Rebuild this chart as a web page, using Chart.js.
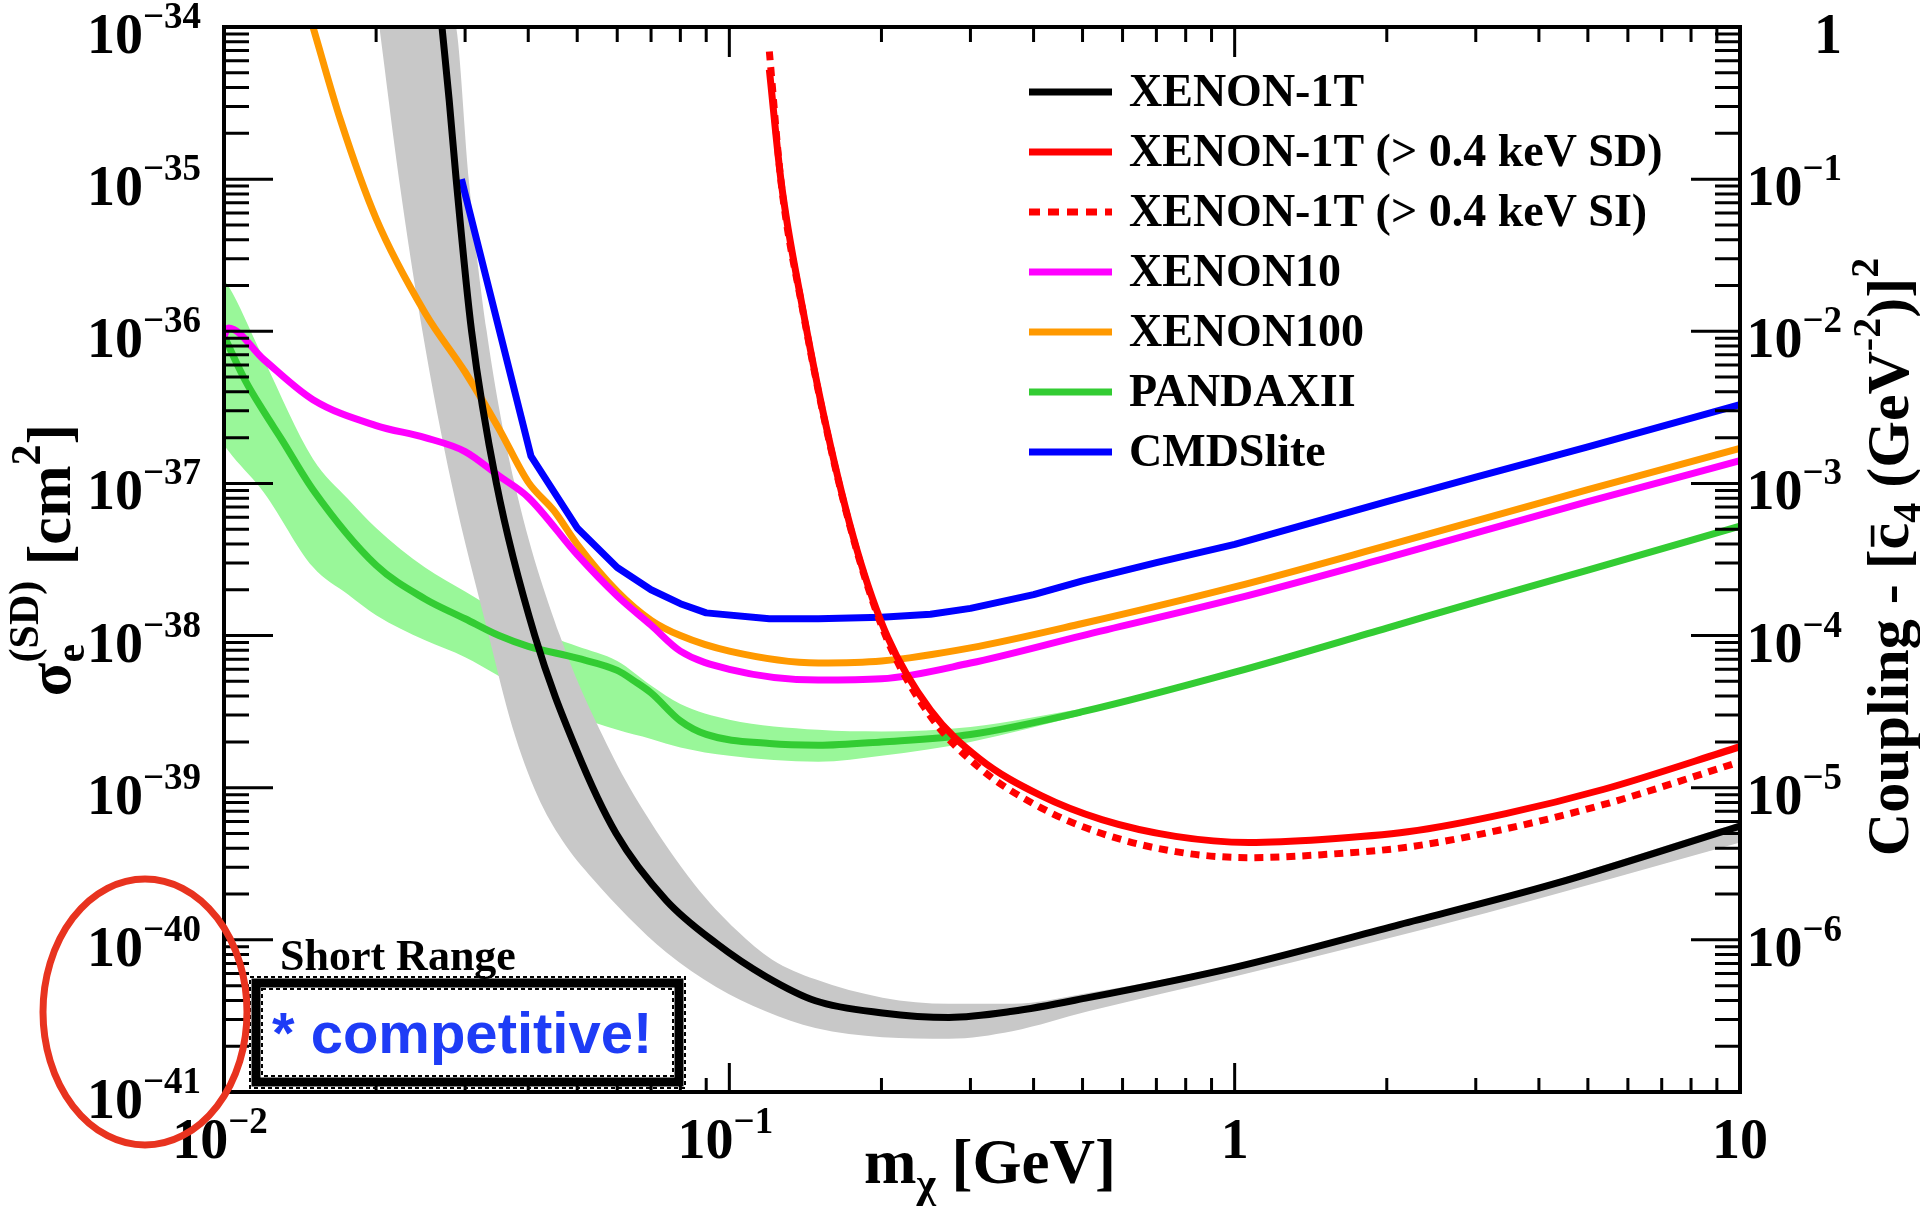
<!DOCTYPE html>
<html>
<head>
<meta charset="utf-8">
<title>Spin-dependent DM-electron limits</title>
<script src="https://cdn.jsdelivr.net/npm/chart.js@4.4.1/dist/chart.umd.min.js"></script>
<style>
  html, body { margin: 0; padding: 0; background: #fff; }
  #wrap { width: 1920px; height: 1214px; position: relative; }
</style>
</head>
<body>
<div id="wrap"><canvas id="limits"></canvas></div>
<script>
// dark matter mass in GeV, cross section in cm^2
const massXenon1T = [0.0270, 0.0279, 0.0288, 0.0309, 0.0346, 0.0412, 0.0498, 0.0597, 0.075, 0.0942, 0.118, 0.148, 0.201, 0.272, 0.363, 0.513, 1.0, 2.12, 4.3, 10];
const sigmaXenon1T = [1e-34, 3.31e-35, 1e-35, 1e-36, 1e-37, 1e-38, 1.78e-39, 5.0e-40, 1.82e-40, 9.5e-41, 5.75e-41, 3.98e-41, 3.31e-41, 3.09e-41, 3.39e-41, 4.17e-41, 6.6e-41, 1.26e-40, 2.34e-40, 5.6e-40];

const massBandHi = [0.0203, 0.0288, 0.0305, 0.0331, 0.0376, 0.0462, 0.0579, 0.0676, 0.0851, 0.1035, 0.1216, 0.148, 0.201, 0.272, 0.363, 0.513, 1.0, 3.16, 10];
const sigmaBandHi = [1e-33, 1e-34, 1e-35, 1e-36, 1e-37, 1e-38, 1.78e-39, 7.08e-40, 2.34e-40, 1.15e-40, 7.4e-41, 5.5e-41, 4.17e-41, 3.80e-41, 3.80e-41, 4.47e-41, 6.9e-41, 1.82e-40, 5.9e-40];
const massBandLo = [0.0203, 0.0222, 0.0247, 0.0282, 0.0334, 0.0372, 0.0417, 0.0468, 0.0537, 0.0631, 0.075, 0.0942, 0.118, 0.148, 0.201, 0.272, 0.363, 0.513, 1.0, 3.16, 10];
const sigmaBandLo = [1e-34, 1e-35, 1e-36, 1e-37, 1e-38, 2.51e-39, 8.9e-40, 4.47e-40, 2.51e-40, 1.41e-40, 8.3e-41, 4.9e-41, 3.39e-41, 2.63e-41, 2.29e-41, 2.24e-41, 2.51e-41, 3.39e-41, 5.75e-41, 1.51e-40, 4.37e-40];

const massRed = [0.120, 0.1268, 0.1393, 0.1556, 0.179, 0.2056, 0.250, 0.3126, 0.413, 0.546, 0.764, 1.067, 1.489, 2.20, 3.44, 5.38, 10];
const sigmaRedSD = [5.25e-35, 9.3e-36, 1.48e-36, 2.34e-37, 3.63e-38, 9.8e-39, 3.24e-39, 1.55e-39, 8.9e-40, 6.17e-40, 4.79e-40, 4.37e-40, 4.57e-40, 5.13e-40, 6.76e-40, 9.77e-40, 1.86e-39];
const sigmaRedSI = [6.9e-35, 9.1e-36, 1.45e-36, 2.29e-37, 3.55e-38, 9.3e-39, 2.95e-39, 1.35e-39, 7.4e-40, 5.0e-40, 3.8e-40, 3.47e-40, 3.63e-40, 4.07e-40, 5.37e-40, 7.76e-40, 1.48e-39];

const massXenon10 = [0.01, 0.0102, 0.012, 0.015, 0.02, 0.025, 0.03, 0.035, 0.04, 0.05, 0.06, 0.07, 0.08, 0.1, 0.15, 0.2, 0.3, 0.5, 1, 2, 5, 10];
const sigmaXenon10 = [9.3e-37, 1.05e-36, 6.5e-37, 3.55e-37, 2.4e-37, 2.0e-37, 1.62e-37, 1.12e-37, 8.1e-38, 3.4e-38, 1.82e-38, 1.17e-38, 7.9e-39, 6.0e-39, 5.1e-39, 5.2e-39, 6.6e-39, 1.0e-38, 1.74e-38, 3.24e-38, 7.6e-38, 1.41e-37];

const massXenon100 = [0.015, 0.017, 0.02, 0.025, 0.03, 0.035, 0.04, 0.045, 0.05, 0.06, 0.07, 0.08, 0.1, 0.15, 0.2, 0.3, 0.5, 1, 2, 5, 10];
const sigmaXenon100 = [1e-34, 2.45e-35, 5.5e-36, 1.32e-36, 5.4e-37, 2.29e-37, 1.02e-37, 6.6e-38, 3.98e-38, 1.95e-38, 1.26e-38, 1.0e-38, 7.9e-39, 6.6e-39, 6.8e-39, 8.3e-39, 1.20e-38, 2.09e-38, 3.9e-38, 9.1e-38, 1.70e-37];

const massPandax = [0.01, 0.011, 0.012, 0.013, 0.015, 0.02, 0.025, 0.03, 0.035, 0.04, 0.05, 0.06, 0.065, 0.07, 0.08, 0.09, 0.12, 0.15, 0.2, 0.3, 0.5, 1, 2, 3, 5, 10];
const sigmaPandax = [9.3e-37, 4.8e-37, 2.95e-37, 1.95e-37, 9.1e-38, 2.9e-38, 1.74e-38, 1.29e-38, 1.0e-38, 8.5e-39, 7.1e-39, 5.9e-39, 5.0e-39, 4.2e-39, 2.75e-39, 2.24e-39, 1.95e-39, 1.9e-39, 2.0e-39, 2.24e-39, 3.16e-39, 5.75e-39, 1.12e-38, 1.66e-38, 2.69e-38, 5.25e-38];
const massPandaxBand = [0.01, 0.0104, 0.012, 0.015, 0.0176, 0.02, 0.025, 0.03, 0.04, 0.05, 0.06, 0.07, 0.08, 0.1, 0.15, 0.2, 0.3, 0.5];
const sigmaPandaxHi = [2.2e-36, 1.78e-36, 6.5e-37, 1.45e-37, 7.9e-38, 5.1e-38, 2.8e-38, 1.95e-38, 1.12e-38, 8.5e-39, 6.8e-39, 4.7e-39, 3.55e-39, 2.8e-39, 2.4e-39, 2.34e-39, 2.51e-39, 3.3e-39];
const sigmaPandaxLo = [1.78e-37, 1.51e-37, 8.7e-38, 2.82e-38, 1.86e-38, 1.36e-38, 9.3e-39, 7.2e-39, 4.2e-39, 2.95e-39, 2.4e-39, 2.09e-39, 1.84e-39, 1.62e-39, 1.48e-39, 1.62e-39, 2.0e-39, 3.0e-39];

const massCmds = [0.0295, 0.0405, 0.05, 0.06, 0.07, 0.08, 0.09, 0.12, 0.15, 0.2, 0.25, 0.3, 0.4, 0.5, 0.7, 1, 1.5, 2, 3, 5, 10];
const sigmaCmds = [1.0e-35, 1.51e-37, 5.1e-38, 2.8e-38, 2.0e-38, 1.62e-38, 1.41e-38, 1.29e-38, 1.29e-38, 1.32e-38, 1.38e-38, 1.51e-38, 1.86e-38, 2.29e-38, 3.02e-38, 3.98e-38, 5.8e-38, 7.6e-38, 1.1e-37, 1.74e-37, 3.3e-37];

// axis ranges and labelled ticks
const xRange = [0.01, 10];
const yRange = [1e-41, 1e-34];
const xLabelExps = [-2, -1, 0, 1];
const yLabelExps = [-34, -35, -36, -37, -38, -39, -40, -41];
const couplingLabelExps = [0, -1, -2, -3, -4, -5, -6];
const minorSteps = [2, 3, 4, 5, 6, 7, 8, 9];

const SERIF = '"Liberation Serif", "DejaVu Serif", serif';
const SANS = '"Liberation Sans", Arial, sans-serif';

function pairs(ms, ss) {
    return ms.map((m, i) => ({ x: m, y: ss[i] }));
}

function curve(label, color, ms, ss, extra) {
    return Object.assign({
        label,
        data: pairs(ms, ss),
        borderColor: color,
        backgroundColor: color,
        borderWidth: 7,
        pointRadius: 0,
        cubicInterpolationMode: "monotone",
        borderJoinStyle: "round",
        fill: false,
        order: 0,
    }, extra || {});
}

function band(ms, ss, color, order, fill) {
    return {
        label: "",
        data: pairs(ms, ss),
        borderColor: "rgba(0,0,0,0)",
        backgroundColor: color,
        borderWidth: 0,
        pointRadius: 0,
        cubicInterpolationMode: "monotone",
        fill,
        order,
    };
}

function boldFont(size, family) {
    return `bold ${size}px ${family || SERIF}`;
}

// runs: {t, s, rise, stack, bar}; returns total advance
function richText(ctx, runs, draw) {
    let x = 0;
    let stackW = 0;
    for (const r of runs) {
        ctx.font = boldFont(r.s);
        const w = ctx.measureText(r.t).width;
        if (draw) {
            ctx.fillText(r.t, x, -(r.rise || 0));
            if (r.bar) {
                ctx.fillRect(x + w * 0.1, -(r.s * 0.62), w * 0.8, r.s * 0.06);
            }
        }
        if (r.stack) {
            stackW = Math.max(stackW, w);
            continue;
        }
        x += Math.max(w, stackW);
        stackW = 0;
    }
    return x;
}

function drawPower(ctx, exp, x, baseY, align) {
    const baseSize = 56, supSize = 37, raise = 25;
    let base = "10", sup = "";
    if (exp === 0) base = "1";
    else if (exp !== 1) sup = (exp < 0 ? "\u2212" : "") + Math.abs(exp);
    ctx.font = boldFont(baseSize);
    const wb = ctx.measureText(base).width;
    ctx.font = boldFont(supSize);
    const ws = sup ? ctx.measureText(sup).width : 0;
    const w = wb + ws;
    const x0 = align === "right" ? x - w : align === "center" ? x - w / 2 : x;
    ctx.textAlign = "left";
    ctx.textBaseline = "alphabetic";
    ctx.font = boldFont(baseSize);
    ctx.fillText(base, x0, baseY);
    if (sup) {
        ctx.font = boldFont(supSize);
        ctx.fillText(sup, x0 + wb, baseY - raise);
    }
}

const frameAndText = {
    id: "frameAndText",
    afterDraw(chart) {
        const ctx = chart.ctx;
        const xs = chart.scales.x;
        const ys = chart.scales.y;
        const { left, right, top, bottom } = chart.chartArea;
        ctx.save();
        ctx.fillStyle = "#000";
        ctx.strokeStyle = "#000";

        // ticks (inward, ROOT style)
        ctx.lineWidth = 3;
        ctx.beginPath();
        for (let e = -2; e < 1; e++) {
            minorSteps.forEach((s) => {
                const px = xs.getPixelForValue(s * Math.pow(10, e));
                ctx.moveTo(px, bottom); ctx.lineTo(px, bottom - 14);
                ctx.moveTo(px, top); ctx.lineTo(px, top + 15);
            });
        }
        xLabelExps.forEach((e) => {
            const px = xs.getPixelForValue(Math.pow(10, e));
            ctx.moveTo(px, bottom); ctx.lineTo(px, bottom - 29);
            ctx.moveTo(px, top); ctx.lineTo(px, top + 30);
        });
        for (let e = -41; e < -34; e++) {
            minorSteps.forEach((s) => {
                const py = ys.getPixelForValue(s * Math.pow(10, e));
                ctx.moveTo(left, py); ctx.lineTo(left + 25, py);
                ctx.moveTo(right, py); ctx.lineTo(right - 25, py);
            });
        }
        yLabelExps.forEach((e) => {
            const py = ys.getPixelForValue(Math.pow(10, e));
            ctx.moveTo(left, py); ctx.lineTo(left + 49, py);
            ctx.moveTo(right, py); ctx.lineTo(right - 49, py);
        });
        ctx.stroke();

        ctx.lineWidth = 4;
        ctx.strokeRect(left, top, right - left, bottom - top);

        // tick labels
        xLabelExps.forEach((e) => {
            drawPower(ctx, e, xs.getPixelForValue(Math.pow(10, e)) - (e < 0 ? 4 : 0), bottom + 66, "center");
        });
        yLabelExps.forEach((e) => {
            drawPower(ctx, e, 201, ys.getPixelForValue(Math.pow(10, e)) + 26, "right");
        });
        couplingLabelExps.forEach((e) => {
            drawPower(ctx, e, 1842, ys.getPixelForValue(Math.pow(10, e) * 1e-34) + 26, "right");
        });

        // axis titles
        ctx.textAlign = "left";
        ctx.textBaseline = "alphabetic";
        const xTitle = [{ t: "m", s: 63 }, { t: "\u03c7", s: 42, rise: -14 }, { t: " [GeV]", s: 63 }];
        const xw = richText(ctx, xTitle, false);
        ctx.save();
        ctx.translate(990 - xw / 2, 1183);
        richText(ctx, xTitle, true);
        ctx.restore();

        const yTitle = [
            { t: "\u03c3", s: 62 },
            { t: "e", s: 42, rise: -14, stack: true },
            { t: "(SD)", s: 42, rise: 32 },
            { t: " [cm", s: 62 },
            { t: "2", s: 42, rise: 30 },
            { t: "]", s: 62 },
        ];
        const yw = richText(ctx, yTitle, false);
        ctx.save();
        ctx.translate(70, 560 + yw / 2);
        ctx.rotate(-Math.PI / 2);
        richText(ctx, yTitle, true);
        ctx.restore();

        const rTitle = [
            { t: "Coupling - [", s: 60 },
            { t: "c", s: 60, bar: true },
            { t: "4", s: 40, rise: -12 },
            { t: " (GeV", s: 60 },
            { t: "-2", s: 40, rise: 28 },
            { t: ")]", s: 60 },
            { t: "2", s: 40, rise: 30 },
        ];
        const rw = richText(ctx, rTitle, false);
        ctx.save();
        ctx.translate(1908, 557 + rw / 2);
        ctx.rotate(-Math.PI / 2);
        richText(ctx, rTitle, true);
        ctx.restore();

        // legend, from the line datasets
        const rowY0 = 92, rowStep = 60;
        chart.data.datasets.slice(0, 7).forEach((ds, i) => {
            const y = rowY0 + i * rowStep;
            ctx.save();
            ctx.strokeStyle = ds.borderColor;
            ctx.lineWidth = 7;
            ctx.setLineDash(ds.borderDash ? [11, 8] : []);
            ctx.beginPath();
            ctx.moveTo(1029, y);
            ctx.lineTo(1112, y);
            ctx.stroke();
            ctx.restore();
            ctx.font = boldFont(46);
            ctx.textBaseline = "middle";
            ctx.fillText(ds.label, 1129, y + 2);
        });

        // annotations
        ctx.textBaseline = "alphabetic";
        ctx.font = boldFont(44);
        ctx.fillText("Short Range", 280, 970);

        ctx.lineWidth = 9;
        ctx.strokeRect(256, 983, 423, 99);
        ctx.lineWidth = 2;
        ctx.setLineDash([4, 3]);
        ctx.strokeRect(250, 977, 435, 111);
        ctx.strokeRect(262, 989, 411, 87);
        ctx.setLineDash([]);

        ctx.fillStyle = "#1e3cf6";
        ctx.font = boldFont(58, SANS);
        ctx.fillText("* competitive!", 272, 1053);

        ctx.strokeStyle = "#e8331f";
        ctx.lineWidth = 7;
        ctx.beginPath();
        ctx.ellipse(145, 1012, 102, 133, 0, 0, Math.PI * 2);
        ctx.stroke();
        ctx.restore();
    },
};

const datasets = [
    curve("XENON-1T", "#000000", massXenon1T, sigmaXenon1T),
    curve("XENON-1T (> 0.4 keV SD)", "#ff0000", massRed, sigmaRedSD),
    curve("XENON-1T (> 0.4 keV SI)", "#ff0000", massRed, sigmaRedSI, { borderDash: [9, 7], borderCapStyle: "butt", borderJoinStyle: "miter" }),
    curve("XENON10", "#ff00ff", massXenon10, sigmaXenon10),
    curve("XENON100", "#ff9900", massXenon100, sigmaXenon100),
    curve("PANDAXII", "#33cc33", massPandax, sigmaPandax),
    curve("CMDSlite", "#0000ff", massCmds, sigmaCmds, { cubicInterpolationMode: "default", tension: 0 }),
    band(massBandHi, sigmaBandHi, "#c8c8c8", 2, "+1"),
    band(massBandLo, sigmaBandLo, "#c8c8c8", 2, false),
    band(massPandaxBand, sigmaPandaxHi, "#99f799", 3, "+1"),
    band(massPandaxBand, sigmaPandaxLo, "#99f799", 3, false),
];

new Chart(document.getElementById("limits").getContext("2d"), {
    type: "line",
    data: { datasets },
    options: {
        responsive: true,
        maintainAspectRatio: false,
        animation: false,
        events: [],
        devicePixelRatio: 1,
        layout: { padding: { left: 224, right: 180, top: 27, bottom: 122 } },
        datasets: { line: { clip: 0 } },
        elements: { line: { capBezierPoints: false } },
        scales: {
            x: { type: "logarithmic", min: xRange[0], max: xRange[1], display: false },
            y: { type: "logarithmic", min: yRange[0], max: yRange[1], display: false },
        },
        plugins: {
            legend: { display: false },
            tooltip: { enabled: false },
        },
    },
    plugins: [frameAndText],
});
</script>
</body>
</html>
